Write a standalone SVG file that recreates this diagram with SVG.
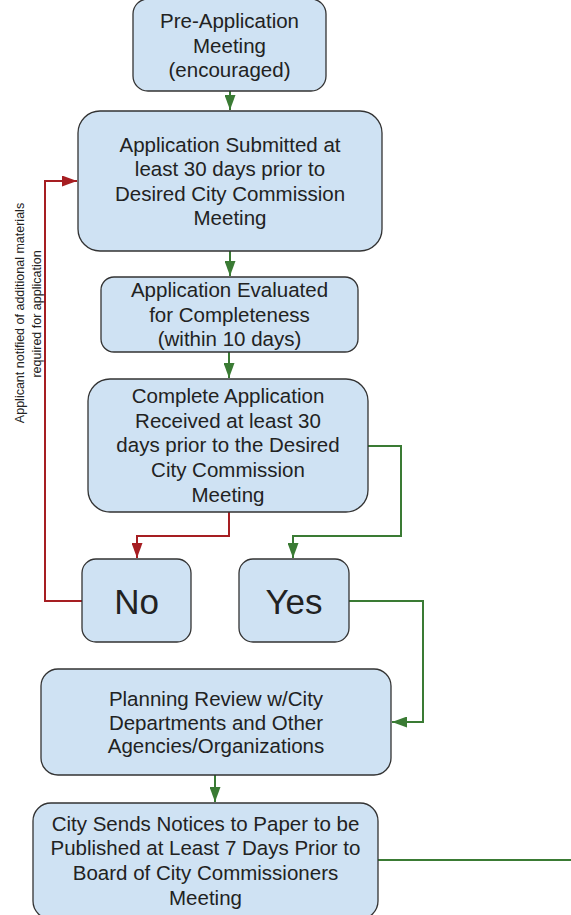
<svg xmlns="http://www.w3.org/2000/svg" width="571" height="915" viewBox="0 0 571 915">
<defs>
<style>
.box{fill:#cfe2f3;stroke:#333;stroke-width:1.3}
.t{font-family:"Liberation Sans",Arial,sans-serif;font-size:20.5px;fill:#222;text-anchor:middle}
.big{font-size:35px}
.side{font-family:"Liberation Sans",Arial,sans-serif;font-size:12.5px;fill:#222;text-anchor:middle}
.g{fill:none;stroke:#3a7b34;stroke-width:2}
.r{fill:none;stroke:#a61e22;stroke-width:2}
</style>
<marker id="ag" viewBox="0 0 15 11" refX="15" refY="5.5" markerWidth="15" markerHeight="11" markerUnits="userSpaceOnUse" orient="auto"><path d="M0,0L15,5.5L0,11z" fill="#3a7b34"/></marker>
<marker id="ar" viewBox="0 0 15 11" refX="15" refY="5.5" markerWidth="15" markerHeight="11" markerUnits="userSpaceOnUse" orient="auto"><path d="M0,0L15,5.5L0,11z" fill="#a61e22"/></marker>
</defs>
<g id="connectors">
<path class="g" d="M230,91V110" marker-end="url(#ag)"/>
<path class="g" d="M230,251V276" marker-end="url(#ag)"/>
<path class="g" d="M229,352V378" marker-end="url(#ag)"/>
<path class="r" d="M229,512V536H137V558" marker-end="url(#ar)"/>
<path class="g" d="M368,446H401V536H293V558" marker-end="url(#ag)"/>
<path class="r" d="M82,601H45V181H77" marker-end="url(#ar)"/>
<path class="g" d="M349,601H423V722H392" marker-end="url(#ag)"/>
<path class="g" d="M215,775V802" marker-end="url(#ag)"/>
<path class="g" d="M378,860H571"/>
<text class="side" transform="translate(24,313) rotate(-90)">Applicant notified of additional materials</text>
<text class="side" transform="translate(41,314) rotate(-90)">required for application</text>
</g>
<g id="n1">
<rect class="box" x="133" y="-1" width="193" height="92" rx="15"/>
<text class="t" x="229.5" y="28">Pre-Application</text>
<text class="t" x="229.5" y="52.5">Meeting</text>
<text class="t" x="229.5" y="77">(encouraged)</text>
</g>
<g id="n2">
<rect class="box" x="78" y="111" width="304" height="140" rx="22"/>
<text class="t" x="230" y="152">Application Submitted at</text>
<text class="t" x="230" y="176">least 30 days prior to</text>
<text class="t" x="230" y="200.5">Desired City Commission</text>
<text class="t" x="230" y="225">Meeting</text>
</g>
<g id="n3">
<rect class="box" x="101" y="277" width="257" height="75" rx="13"/>
<text class="t" x="229.5" y="297">Application Evaluated</text>
<text class="t" x="229.5" y="322">for Completeness</text>
<text class="t" x="229.5" y="346">(within 10 days)</text>
</g>
<g id="n4">
<rect class="box" x="88" y="379" width="280" height="133" rx="22"/>
<text class="t" x="228" y="403">Complete Application</text>
<text class="t" x="228" y="428">Received at least 30</text>
<text class="t" x="228" y="452">days prior to the Desired</text>
<text class="t" x="228" y="477">City Commission</text>
<text class="t" x="228" y="502">Meeting</text>
</g>
<g id="no">
<rect class="box" x="82" y="559" width="109" height="83" rx="14"/>
<text class="t big" x="136.5" y="614">No</text>
</g>
<g id="yes">
<rect class="box" x="239" y="559" width="110" height="83" rx="14"/>
<text class="t big" x="294" y="614">Yes</text>
</g>
<g id="n5">
<rect class="box" x="41" y="669" width="350" height="106" rx="17"/>
<text class="t" x="216" y="706">Planning Review w/City</text>
<text class="t" x="216" y="730">Departments and Other</text>
<text class="t" x="216" y="753">Agencies/Organizations</text>
</g>
<g id="n6">
<rect class="box" x="33" y="803" width="345" height="116" rx="18"/>
<text class="t" x="205.5" y="831">City Sends Notices to Paper to be</text>
<text class="t" x="205.5" y="855">Published at Least 7 Days Prior to</text>
<text class="t" x="205.5" y="880">Board of City Commissioners</text>
<text class="t" x="205.5" y="905">Meeting</text>
</g>
</svg>
